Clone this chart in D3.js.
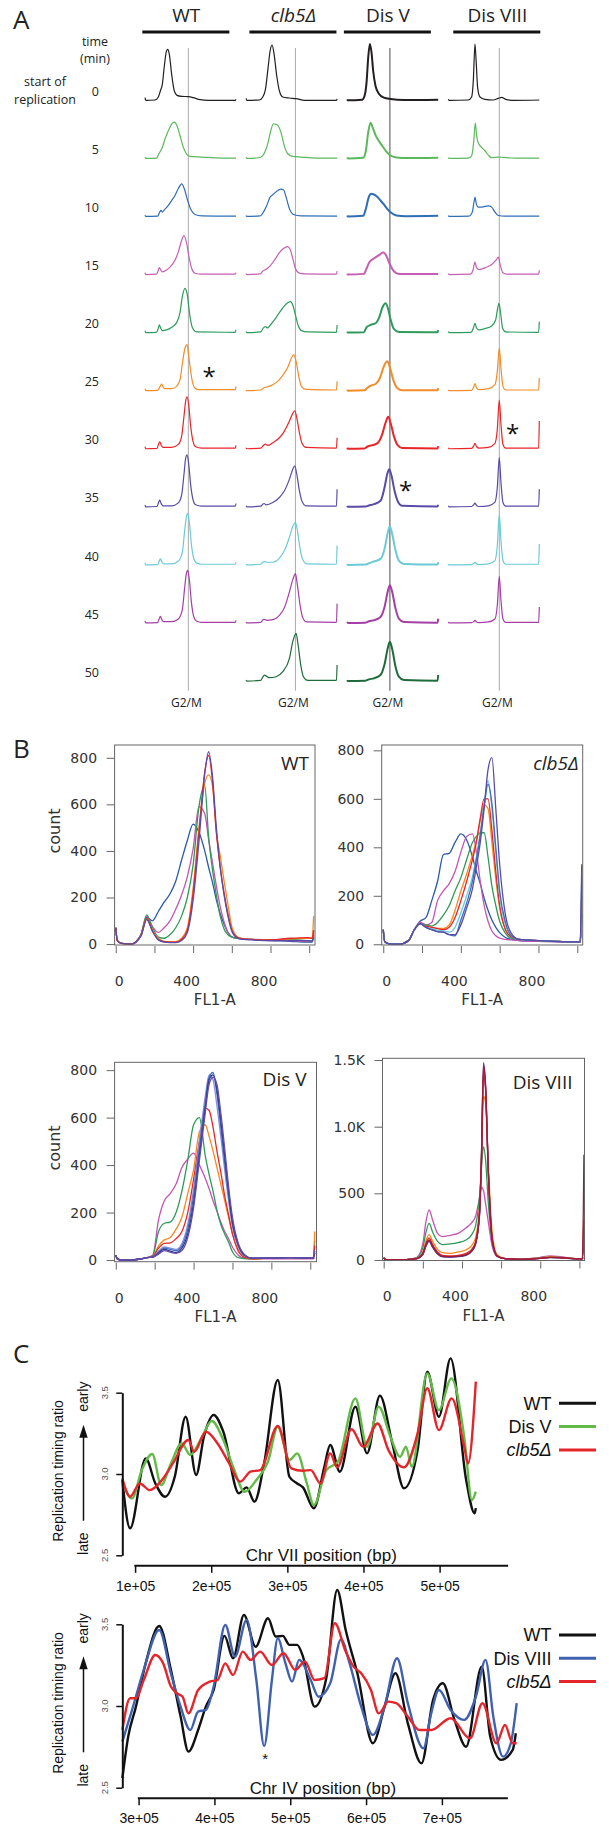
<!DOCTYPE html>
<html>
<head>
<meta charset="utf-8">
<script src="https://cdn.jsdelivr.net/npm/d3@7"></script>
<style>
  body { margin: 0; background: #fff; }
  svg { display: block; }
</style>
</head>
<body>
<svg id="fig" width="609" height="1830"></svg>
<script>
// ---------- panel A : FACS profiles, one trace per strain and time point ----------
var strainsA = ["WT", "clb5Δ", "Dis V", "Dis VIII"];
var timesA = [0, 5, 10, 15, 20, 25, 30, 35, 40, 45, 50];
var timeColors = ["#231f20", "#5cb85c", "#2f6db5", "#c55fb3", "#2e9a5c", "#f28c28",
                  "#e8262a", "#5b4aa6", "#6ccad6", "#a43fa6", "#1f6b3b"];
var g2Channel = [130, 148, 128, 153];   // G2/M position per strain (trace units)

// [channel, count] pairs, one trace per time point
var tracesWT = [
  [[0,10],[2,2],[30,3],[40,12],[46,30],[52,50],[58,105],[64,148],[68,155],[73,140],[80,80],[88,30],[96,17],[110,14],[130,13],[145,10],[165,4],[190,2],[271,2],[273,5]],
  [[0,6],[2,2],[35,3],[40,12],[45,22],[52,35],[60,60],[70,85],[80,105],[88,111],[96,100],[105,70],[115,35],[125,15],[135,8],[170,6],[230,3],[273,3]],
  [[0,6],[2,2],[38,3],[44,15],[48,20],[52,15],[58,22],[70,35],[80,50],[90,65],[100,86],[110,100],[118,85],[128,50],[138,22],[150,8],[170,4],[273,3]],
  [[0,8],[2,2],[34,3],[39,12],[43,23],[47,16],[52,10],[62,14],[75,24],[90,45],[100,70],[110,105],[117,119],[124,100],[132,55],[140,20],[150,6],[170,3],[271,3],[273,8]],
  [[0,8],[2,2],[34,3],[39,12],[43,25],[47,15],[52,8],[65,10],[80,18],[95,32],[105,62],[112,110],[120,135],[127,115],[135,50],[143,15],[155,4],[271,3],[273,10]],
  [[0,8],[2,2],[38,3],[44,12],[50,22],[55,12],[60,8],[80,8],[95,15],[105,35],[113,90],[120,130],[126,140],[132,100],[140,40],[148,12],[160,5],[271,5],[273,15]],
  [[0,8],[2,2],[36,3],[40,14],[44,23],[49,12],[54,6],[80,6],[100,15],[110,40],[117,100],[122,145],[126,158],[131,135],[137,70],[144,25],[152,8],[170,4],[271,4],[273,12]],
  [[0,8],[2,2],[36,3],[40,13],[44,22],[49,11],[54,5],[80,5],[100,14],[110,38],[117,100],[122,148],[126,158],[131,132],[137,68],[144,24],[152,8],[170,4],[271,4],[273,12]],
  [[0,8],[2,2],[38,3],[42,12],[46,20],[51,10],[56,5],[80,5],[100,13],[112,40],[119,105],[124,145],[128,157],[133,130],[139,65],[146,22],[154,8],[170,4],[271,4],[273,10]],
  [[0,8],[2,2],[38,3],[42,13],[46,22],[51,11],[56,6],[80,6],[100,14],[112,42],[119,108],[124,150],[128,160],[133,132],[139,66],[146,22],[154,8],[170,4],[271,4],[273,10]]
];
var tracesClb5 = [
  [[0,8],[2,2],[40,3],[50,12],[58,35],[66,100],[72,150],[78,168],[84,140],[92,75],[100,30],[110,12],[130,9],[150,7],[175,2],[271,2],[273,6]],
  [[0,6],[2,2],[40,4],[50,10],[58,25],[66,50],[74,85],[82,106],[90,104],[98,97],[106,75],[115,38],[125,16],[140,8],[165,6],[210,3],[273,3]],
  [[0,5],[2,2],[42,4],[52,15],[62,35],[72,60],[80,67],[92,78],[104,84],[112,82],[120,60],[130,25],[142,8],[165,4],[273,3]],
  [[0,5],[2,2],[42,4],[50,12],[60,18],[72,28],[85,45],[100,68],[112,80],[124,86],[132,78],[140,50],[148,20],[158,7],[175,4],[271,3],[273,12]],
  [[0,5],[2,2],[44,4],[52,16],[58,20],[64,16],[72,24],[85,40],[100,62],[115,82],[126,92],[133,95],[140,85],[148,55],[156,24],[166,8],[185,4],[271,3],[273,25]],
  [[0,5],[2,2],[44,4],[52,10],[58,12],[66,14],[80,20],[95,30],[110,48],[125,72],[136,100],[143,110],[150,90],[158,45],[166,15],[178,6],[271,4],[273,30]],
  [[0,5],[2,2],[44,4],[52,12],[58,16],[65,12],[80,20],[100,35],[115,55],[130,85],[140,108],[146,116],[152,95],[160,50],[168,18],[180,6],[271,4],[273,35]],
  [[0,5],[2,2],[44,4],[50,10],[54,12],[60,8],[80,15],[100,30],[115,50],[130,85],[140,115],[146,125],[152,100],[160,50],[168,18],[180,5],[271,4],[273,55]],
  [[0,5],[2,2],[44,4],[50,10],[55,12],[62,10],[80,10],[100,22],[115,45],[130,85],[141,120],[148,130],[154,105],[162,50],[170,18],[182,5],[271,4],[273,60]],
  [[0,5],[2,2],[44,4],[50,11],[55,13],[62,10],[80,12],[100,25],[115,48],[130,95],[141,135],[148,150],[154,115],[162,55],[170,18],[182,5],[271,4],[273,60]],
  [[0,5],[2,2],[44,4],[50,14],[55,20],[62,16],[70,12],[90,15],[110,30],[130,70],[140,120],[150,145],[156,110],[164,50],[172,15],[185,4],[271,4],[273,50]]
];
var tracesDisV = [
  [[0,5],[2,2],[45,4],[52,15],[58,55],[63,130],[68,171],[73,145],[78,90],[85,45],[95,22],[110,10],[130,6],[170,3],[273,4]],
  [[0,5],[2,2],[48,4],[56,25],[63,80],[70,109],[76,96],[85,72],[95,54],[105,40],[118,22],[130,10],[148,5],[180,3],[273,4]],
  [[0,5],[2,2],[48,4],[56,25],[64,58],[72,70],[80,68],[90,61],[100,50],[110,38],[120,25],[132,13],[148,5],[175,3],[273,4]],
  [[0,5],[2,2],[50,4],[58,20],[66,38],[80,50],[95,60],[108,68],[118,57],[128,32],[140,12],[155,4],[273,4]],
  [[0,5],[2,2],[50,3],[58,18],[70,25],[85,30],[96,48],[106,78],[115,90],[122,76],[130,42],[140,13],[155,4],[271,3],[273,10]],
  [[0,5],[2,2],[52,3],[60,10],[70,17],[85,22],[98,40],[110,75],[120,90],[128,72],[138,35],[150,10],[165,3],[271,3],[273,10]],
  [[0,5],[2,2],[52,3],[60,8],[72,12],[90,18],[105,45],[115,80],[123,98],[130,80],[140,40],[152,12],[165,4],[271,3],[273,10]],
  [[0,5],[2,2],[55,3],[65,6],[80,10],[100,20],[112,60],[120,100],[126,115],[133,95],[142,50],[152,18],[165,5],[271,3],[273,8]],
  [[0,5],[2,2],[55,3],[65,7],[80,12],[100,20],[112,50],[122,100],[128,118],[135,95],[145,45],[155,15],[170,5],[271,3],[273,10]],
  [[0,5],[2,2],[55,3],[65,7],[80,10],[100,20],[112,50],[122,98],[128,115],[135,95],[145,45],[155,15],[170,5],[271,3],[273,15]],
  [[0,5],[2,2],[55,3],[65,7],[80,10],[100,20],[112,52],[122,102],[128,120],[135,98],[145,45],[155,15],[170,5],[271,3],[273,20]]
];
var tracesDisVIII = [
  [[0,5],[2,2],[60,3],[70,12],[75,60],[80,171],[84,110],[88,40],[95,12],[110,5],[135,3],[150,8],[160,11],[172,5],[200,2],[273,3]],
  [[0,5],[2,2],[60,3],[70,10],[76,50],[81,108],[85,70],[90,48],[100,35],[110,25],[120,12],[130,4],[150,6],[165,5],[200,3],[273,3]],
  [[0,5],[2,2],[62,3],[72,15],[77,45],[80,60],[84,40],[90,30],[105,31],[120,34],[130,30],[140,15],[150,5],[170,3],[273,3]],
  [[0,5],[2,2],[66,3],[74,15],[80,39],[85,22],[92,17],[110,22],[130,32],[143,45],[150,54],[156,30],[163,8],[175,3],[271,3],[273,15]],
  [[0,5],[2,2],[68,3],[75,15],[80,30],[85,15],[92,10],[110,14],[130,22],[142,40],[148,75],[152,90],[157,60],[163,15],[172,4],[271,3],[273,35]],
  [[0,5],[2,2],[70,3],[76,12],[80,23],[85,10],[92,5],[120,8],[140,20],[147,60],[153,130],[158,70],[164,15],[172,4],[271,4],[273,40]],
  [[0,5],[2,2],[70,3],[76,10],[80,18],[85,8],[92,4],[120,6],[140,18],[147,60],[153,148],[158,75],[164,15],[172,4],[271,4],[273,85]],
  [[0,5],[2,2],[70,3],[76,8],[80,13],[85,6],[92,3],[120,5],[140,16],[147,60],[153,150],[158,75],[164,15],[172,4],[271,4],[273,55]],
  [[0,5],[2,2],[70,3],[76,6],[80,10],[85,5],[92,3],[120,5],[140,15],[147,60],[153,153],[158,75],[164,15],[172,4],[271,4],[273,65]],
  [[0,5],[2,2],[70,3],[76,6],[80,10],[85,5],[92,3],[120,5],[140,14],[147,55],[153,142],[158,70],[164,14],[172,4],[271,4],[273,50]]
];
// asterisks: strain index, time, channel, count
var starsA = [[0, 25, 192, 55], [3, 30, 193, 58], [2, 35, 175, 60]];

// ---------- panel B : overlaid FACS histograms ----------
var bGrid = [0, 8, 30, 80, 130, 160, 190, 220, 250, 280, 310, 340, 370, 400, 430, 460, 480, 500, 520, 540, 560, 580, 600, 630, 660, 700, 800, 900, 990, 1015, 1023];
var dGrid = [0, 8, 30, 80, 130, 170, 200, 215, 232, 250, 275, 300, 340, 380, 420, 450, 470, 490, 500, 510, 520, 535, 555, 580, 620, 700, 800, 850, 900, 990, 1015, 1023];

var bColorsWT = ["#2a5aa8", "#c455b5", "#2e9a5a", "#f28a20", "#e8262a", "#5b4aa8"];
var bWT = [
  [70,15,3,0,40,115,100,140,180,215,270,360,445,515,480,400,330,265,190,130,85,50,31,25,22,20,15,12,8,8,30],
  [70,15,3,0,40,120,75,50,70,100,150,210,290,410,590,560,450,350,250,160,95,50,30,25,22,20,18,15,12,12,40],
  [70,15,3,0,40,125,70,30,25,40,70,120,200,340,590,680,460,320,210,120,65,40,30,25,22,20,18,20,15,15,50],
  [70,15,3,0,35,110,60,25,12,10,10,25,70,240,500,690,727,680,480,380,270,170,75,30,22,20,18,22,25,25,120],
  [70,15,3,0,35,110,55,20,10,8,8,20,60,220,480,740,810,700,480,330,220,130,60,28,22,20,18,25,28,25,60],
  [70,15,3,0,35,105,55,18,8,6,6,15,50,190,440,730,826,720,500,330,210,120,55,25,20,18,15,15,15,12,30]
];
var bColorsClb5 = ["#2a5aa8", "#c455b5", "#2e9a5a", "#f28a20", "#e8262a", "#6ccad6", "#3a6fc0", "#5b4aa8"];
var bClb5 = [
  [60,10,2,0,15,60,95,110,180,260,370,375,420,455,430,360,300,250,190,140,100,70,48,28,20,15,12,10,8,8,100],
  [60,10,2,0,15,60,90,80,90,180,220,250,300,380,445,455,380,260,160,95,55,35,25,20,18,15,12,10,8,8,60],
  [60,10,2,0,15,60,85,80,75,90,120,160,220,275,350,420,445,460,460,360,240,160,95,45,25,20,15,12,10,10,120],
  [60,10,2,0,15,60,85,75,70,65,65,80,140,220,290,370,430,510,575,560,420,270,150,60,30,20,15,12,10,10,150],
  [60,10,2,0,15,60,85,75,70,65,60,70,110,180,260,350,420,520,600,600,470,300,160,60,30,20,15,12,10,10,200],
  [60,10,2,0,15,60,85,70,65,58,55,50,70,130,200,280,360,460,580,675,560,380,200,80,35,20,15,12,10,10,250],
  [60,10,2,0,15,60,85,70,60,52,50,40,35,100,170,260,350,450,570,660,580,400,220,90,35,20,15,12,10,10,280],
  [60,10,2,0,15,60,85,70,60,52,50,40,40,80,150,230,320,420,560,720,770,560,330,120,45,20,15,12,10,10,330]
];
var bColorsDisV = ["#c455b5", "#2e9a5a", "#f28a20", "#e8262a", "#8c8cd8", "#3a6fc0", "#2b3a8f", "#6a4aa8"];
var bDisV = [
  [20,5,0,0,5,10,20,170,250,280,320,390,425,450,400,345,300,250,205,160,120,90,55,20,8,5,5,5,5,5,10],
  [20,5,0,0,5,10,18,120,155,160,200,290,420,570,600,440,360,290,210,150,110,75,35,10,6,5,8,10,8,8,80],
  [20,5,0,0,5,10,15,60,85,95,130,180,280,380,540,570,520,460,390,320,250,180,110,35,12,5,8,10,8,8,120],
  [20,5,0,0,5,10,15,50,70,72,90,120,200,340,500,640,630,560,460,370,270,190,110,40,12,5,8,10,8,8,60],
  [20,5,0,0,5,10,12,38,55,50,45,70,150,300,500,690,780,760,650,520,380,250,140,55,18,8,8,10,8,8,40],
  [20,5,0,0,5,10,12,33,50,45,40,60,130,270,470,660,770,790,700,560,410,270,150,60,20,8,8,10,8,8,30],
  [20,5,0,0,5,10,12,30,45,38,32,50,110,240,440,640,760,780,720,590,440,290,160,65,22,8,8,10,8,8,30],
  [20,5,0,0,5,10,12,25,40,33,28,40,95,220,420,620,740,770,740,620,470,310,180,70,25,8,8,10,8,8,40]
];
var bColorsDisVIII = ["#c455b5", "#2e9a5a", "#f28a20", "#2b3a8f", "#6a3d9a", "#e8262a", "#9b1b3a"];
var bDisVIII = [
  [20,5,0,0,5,20,120,280,375,300,200,175,185,200,240,280,330,470,545,520,430,280,100,25,10,5,20,30,25,10,10,20],
  [15,4,0,0,4,15,90,200,275,210,140,115,120,130,150,190,260,480,700,850,760,420,130,30,10,5,15,25,20,10,10,330],
  [15,4,0,0,4,12,60,140,190,140,80,55,50,60,75,110,170,400,750,1230,1180,700,200,40,12,5,15,25,20,10,10,450],
  [15,4,0,0,4,10,40,100,140,95,45,25,22,25,35,65,120,340,760,1400,1300,650,140,30,10,5,12,18,15,8,8,150],
  [15,4,0,0,4,10,42,105,145,100,48,26,24,27,38,68,125,350,820,1480,1320,640,140,28,10,5,12,20,18,8,8,300],
  [15,4,0,0,4,10,50,120,165,115,60,35,30,35,50,80,140,380,800,1420,1300,650,150,30,10,5,12,20,18,8,8,200],
  [15,4,0,0,4,10,45,110,150,105,50,28,25,28,40,70,130,360,800,1460,1330,660,150,30,10,5,12,20,18,8,8,790]
];

// ---------- panel C : replication timing profiles [position kb, ratio] ----------
var cTopNames = ["WT", "Dis V", "clb5Δ"];
var cTopColors = ["#111111", "#62bb46", "#e4262b"];
var cTopWT = [[83.2,2.963],[93.4,2.666],[113.9,3.096],[126.6,2.942],[139.4,2.860],[152.1,2.983],[166.4,3.352],[180.2,2.994],[190.4,3.229],[203.2,3.363],[215.9,3.260],[236.3,2.881],[246.5,2.918],[256.8,2.830],[269.5,3.065],[287.4,3.578],[302.7,2.983],[312.9,2.942],[320.5,2.918],[334.8,2.789],[348.6,3.045],[356.3,3.178],[369,3.014],[389.4,3.414],[404.7,3.127],[421.6,3.482],[437.9,3.188],[453.2,2.912],[471.1,3.147],[483.8,3.629],[499.1,3.352],[514.4,3.711],[534.9,2.963],[546.1,2.758],[547.6,2.79]];
var cTopDisV = [[83.2,2.953],[96,2.850],[108.8,3.024],[122.5,3.123],[134.3,2.932],[147,3.065],[161.3,3.188],[172.5,3.117],[187.9,3.229],[200.6,3.326],[215.9,3.209],[228.7,3.045],[244,2.891],[259.3,2.963],[274.6,3.076],[287.4,3.291],[302.7,3.086],[312.9,3.127],[325.6,2.942],[334.8,2.809],[351.2,3.024],[366.5,3.076],[389.4,3.465],[404.7,3.168],[420,3.414],[435.4,3.229],[448.1,3.106],[455.8,3.168],[463.4,3.045],[483.8,3.619],[499.1,3.393],[515.5,3.588],[532.3,3.229],[542.5,2.840],[547.6,2.891]];
var cTopClb5 = [[83.2,2.973],[93.4,2.860],[106.2,2.942],[119,2.901],[136.8,2.973],[149.6,3.065],[170,3.209],[177.7,3.137],[193,3.260],[208.3,3.188],[223.6,3.065],[237.9,2.953],[251.6,3.014],[264.4,3.024],[287.4,3.295],[305.2,3.035],[320.5,3.020],[330.7,3.024],[343.5,2.942],[356.3,3.127],[365.4,3.041],[384.3,3.275],[399.6,3.168],[418.5,3.311],[432.8,3.147],[453.2,3.041],[471.1,3.250],[483.8,3.527],[499.1,3.270],[515.9,3.465],[532.3,3.168],[537.4,3.065],[547.6,3.568]];

var cBotNames = ["WT", "Dis VIII", "clb5Δ"];
var cBotColors = ["#111111", "#4060b0", "#e4262b"];
var cBotWT = [[278.6,2.558],[286.3,2.813],[296.5,2.996],[309.3,3.261],[327.2,3.490],[342.6,3.221],[355.4,2.935],[365.7,2.721],[378.5,2.853],[388.7,2.996],[399,3.098],[413.3,3.429],[424.6,3.292],[438.9,3.557],[454.3,3.363],[470.7,3.537],[480.9,3.425],[490.2,3.429],[498.9,3.374],[509.1,3.374],[516.8,3.302],[532.2,2.996],[547.5,3.170],[561.9,3.710],[573.1,3.465],[588.5,3.200],[609,2.772],[624.4,2.996],[638.7,3.200],[655.1,2.894],[673,2.649],[688.4,3.037],[701.2,3.139],[716.6,2.915],[731.9,2.751],[752.5,3.241],[763.7,2.813],[778.1,2.670],[793.4,2.731],[797.5,2.833]];
var cBotDisVIII = [[278.6,2.782],[291.4,2.976],[306.8,3.221],[327.2,3.465],[342.6,3.200],[355.4,2.996],[368.2,2.853],[378.5,2.966],[388.7,2.976],[399,3.119],[414.3,3.496],[427.1,3.302],[442.5,3.527],[455.3,3.159],[465.6,2.755],[475.8,3.159],[483.5,3.414],[493.7,3.261],[502.4,3.149],[511.7,3.282],[527,3.159],[537.3,3.057],[552.7,3.139],[567,3.408],[578.3,3.261],[593.6,2.996],[609,2.823],[624.4,2.996],[640.8,3.292],[655.1,3.017],[675.6,2.741],[685.9,2.955],[696.1,3.098],[711.5,2.976],[729.4,2.915],[744.8,3.057],[757.6,3.282],[767.8,2.935],[780.6,2.690],[790.9,2.772],[798.6,3.017]];
var cBotClb5 = [[278.6,2.853],[288.8,3.047],[296.5,3.047],[306.8,3.159],[322.1,3.312],[332.4,3.261],[342.6,3.119],[350.3,3.078],[358,3.057],[365.7,2.955],[378.5,3.098],[393.8,3.149],[404.1,3.159],[414.3,3.261],[424.6,3.190],[437.4,3.333],[447.6,3.282],[460.4,3.333],[475.8,3.251],[491.2,3.323],[506.5,3.221],[519.4,3.272],[532.2,3.159],[545,3.170],[558.8,3.506],[573.1,3.333],[583.4,3.241],[593.6,3.200],[606.4,3.098],[616.7,2.955],[629.5,3.027],[639.7,3.017],[655.1,2.935],[670.5,2.853],[685.9,2.853],[711.5,2.925],[737.1,2.802],[753.5,3.017],[771.9,2.772],[783.2,2.884],[793.4,2.772],[798.6,2.772]];
var cBotStar = [467, 2.70];

// =====================================================================
var svg = d3.select("#fig");
var sansA = "'Open Sans', sans-serif";
var sansC = "'Liberation Sans', Arial, sans-serif";

// ---------------- panel A ----------------
var colA = d3.scalePoint().domain(strainsA).range([145, 448.3]);
var rowA = d3.scaleLinear().domain([0, 50]).range([101, 681.7]);
var xA = d3.scaleLinear().domain([0, 273]).range([0, 91]);
var yA = d3.scaleLinear().domain([0, 171]).range([0, -57]);
var lineA = d3.line().x(d => xA(d[0])).y(d => yA(d[1])).curve(d3.curveMonotoneX);
var tracesA = [tracesWT, tracesClb5, tracesDisV, tracesDisVIII];

var gA = svg.append("g").attr("font-family", sansA).attr("fill", "#222");
gA.append("text").attr("x", 13).attr("y", 29).attr("font-size", 26).text("A");

gA.append("text").attr("x", 95).attr("y", 46).attr("text-anchor", "middle").attr("font-size", 12.5).text("time");
gA.append("text").attr("x", 95).attr("y", 63).attr("text-anchor", "middle").attr("font-size", 12.5).text("(min)");
gA.append("text").attr("x", 45).attr("y", 86).attr("text-anchor", "middle").attr("font-size", 12.5).text("start of");
gA.append("text").attr("x", 45).attr("y", 104).attr("text-anchor", "middle").attr("font-size", 12.5).text("replication");

gA.selectAll("text.time").data(timesA).join("text").attr("class", "time")
  .attr("x", 99).attr("y", d => rowA(d) - 5)
  .attr("text-anchor", "end").attr("font-size", 12.5).text(d => d);

strainsA.forEach(function (s, si) {
  var x0 = colA(s);
  var gx = x0 + xA(g2Channel[si]);
  gA.append("text").attr("x", gx - 2).attr("y", 22).attr("text-anchor", "middle")
    .attr("font-size", 19).attr("font-style", si === 1 ? "italic" : null).text(s);
  gA.append("line").attr("x1", gx - 46).attr("x2", gx + 41).attr("y1", 32).attr("y2", 32)
    .attr("stroke", "#111").attr("stroke-width", 3);
  gA.append("line").attr("x1", gx).attr("x2", gx)
    .attr("y1", rowA(0) - 53).attr("y2", rowA(50) + 9)
    .attr("stroke", si === 2 ? "#888" : "#aaa").attr("stroke-width", si === 2 ? 1.5 : 1);
  gA.append("text").attr("x", gx - 2).attr("y", 707).attr("text-anchor", "middle")
    .attr("font-size", 12).text("G2/M");

  gA.append("g").attr("transform", "translate(" + x0 + ",0)")
    .selectAll("path").data(tracesA[si]).join("path")
    .attr("transform", (d, i) => "translate(0," + rowA(timesA[i]) + ")")
    .attr("d", lineA).attr("fill", "none")
    .attr("stroke", (d, i) => timeColors[i])
    .attr("stroke-width", si === 2 ? 2 : 1.2);
});

gA.selectAll("text.star").data(starsA).join("text").attr("class", "star")
  .attr("x", d => colA(strainsA[d[0]]) + xA(d[2]))
  .attr("y", d => rowA(d[1]) + yA(d[3]) + 12)
  .attr("text-anchor", "middle").attr("font-size", 24).attr("fill", "#111").text("*");

// ---------------- panel B ----------------
svg.append("text").attr("x", 13).attr("y", 758).attr("font-family", sansA)
  .attr("font-size", 26).attr("fill", "#222").text("B");

var bPlots = [
  { label: "WT", italic: false, lines: bWT, colors: bColorsWT, grid: bGrid, x0: 114.6, x1: 315, y0: 745, y1: 945,
    xDom: [-6, 1030], yDom: [-4, 855], yTicks: [0, 200, 400, 600, 800], fmt: d => d, count: true, lx: 6, ly: 25 },
  { label: "clb5Δ", italic: true, lines: bClb5, colors: bColorsClb5, grid: bGrid, x0: 381.7, x1: 582.7, y0: 745, y1: 945,
    xDom: [-8, 1028], yDom: [-3, 822], yTicks: [0, 200, 400, 600, 800], fmt: d => d, count: false, lx: 4, ly: 25 },
  { label: "Dis V", italic: false, lines: bDisV, colors: bColorsDisV, grid: bGrid, x0: 114.6, x1: 316.5, y0: 1062.3, y1: 1261.7,
    xDom: [-6, 1032], yDom: [-7, 833], yTicks: [0, 200, 400, 600, 800], fmt: d => d, count: true, lx: 10, ly: 24 },
  { label: "Dis VIII", italic: false, lines: bDisVIII, colors: bColorsDisVIII, grid: dGrid, x0: 382.5, x1: 584.5, y0: 1058.3, y1: 1260.5,
    xDom: [-6, 1026], yDom: [-4, 1513], yTicks: [0, 500, 1000, 1500],
    fmt: d => d >= 1000 ? (d / 1000).toFixed(1) + "K" : d, count: false, lx: 12, ly: 31 }
];

bPlots.forEach(function (p) {
  var x = d3.scaleLinear().domain(p.xDom).range([p.x0, p.x1]);
  var y = d3.scaleLinear().domain(p.yDom).range([p.y1, p.y0]);
  var g = svg.append("g").attr("font-family", "'DejaVu Sans', sans-serif");
  var line = d3.line().x((d, i) => x(p.grid[i])).y(d => y(d)).curve(d3.curveMonotoneX);

  g.selectAll("path.h").data(p.lines).join("path").attr("class", "h")
    .attr("d", line).attr("fill", "none")
    .attr("stroke", (d, i) => p.colors[i]).attr("stroke-width", 1.3);

  g.append("rect").attr("x", p.x0).attr("y", p.y0)
    .attr("width", p.x1 - p.x0).attr("height", p.y1 - p.y0)
    .attr("fill", "none").attr("stroke", "#666").attr("stroke-width", 1);

  var ya = g.append("g").attr("transform", "translate(" + p.x0 + ",0)")
    .call(d3.axisLeft(y).tickValues(p.yTicks).tickSize(8).tickPadding(9.5).tickFormat(p.fmt));
  ya.select(".domain").remove();
  ya.selectAll(".tick line").attr("stroke", "#666");
  ya.selectAll(".tick text").attr("font-size", 14).attr("fill", "#333")
    .attr("font-family", "'DejaVu Sans', sans-serif");

  var xa = g.append("g").attr("transform", "translate(0," + (p.y1 + 1) + ")")
    .call(d3.axisBottom(x).tickValues([0, 200, 400, 600, 800, 1000]).tickSize(7).tickPadding(23)
      .tickFormat(d => (d % 400 === 0 && d < 1000) ? d : ""));
  xa.select(".domain").remove();
  xa.selectAll(".tick line").attr("stroke", "#666");
  xa.selectAll(".tick text").attr("font-size", 14).attr("fill", "#333")
    .attr("font-family", "'DejaVu Sans', sans-serif")
    .attr("dx", d => d === 0 ? 3 : -7);

  g.append("text").attr("x", (p.x0 + p.x1) / 2).attr("y", p.y1 + 60)
    .attr("text-anchor", "middle").attr("font-size", 15).attr("fill", "#333").text("FL1-A");

  if (p.count) {
    g.append("text").attr("transform", "translate(54," + ((p.y0 + p.y1) / 2 - 14) + ") rotate(-90)")
      .attr("dy", "0.35em").attr("text-anchor", "middle").attr("font-size", 16).attr("fill", "#333").text("count");
  }

  g.append("text").attr("x", p.x1 - p.lx).attr("y", p.y0 + p.ly)
    .attr("text-anchor", "end").attr("font-family", sansA).attr("font-size", 19).attr("fill", "#222")
    .attr("font-style", p.italic ? "italic" : null).text(p.label);
});

// ---------------- panel C ----------------
svg.append("text").attr("x", 13).attr("y", 1363).attr("font-family", sansA)
  .attr("font-size", 26).attr("fill", "#222").text("C");

var cPlots = [
  { series: [cTopWT, cTopDisV, cTopClb5], names: cTopNames, colors: cTopColors,
    xDom: [100, 500], xRange: [135.1, 439.6], axisKb: [99, 590], ticks: [100, 200, 300, 400, 500],
    yTop: 1392.7, yBottom: 1555.3, title: "Chr VII position (bp)", star: null },
  { series: [cBotWT, cBotDisVIII, cBotClb5], names: cBotNames, colors: cBotColors,
    xDom: [300, 700], xRange: [138.6, 441.9], axisKb: [299, 787], ticks: [300, 400, 500, 600, 700],
    yTop: 1624.3, yBottom: 1787.7, title: "Chr IV position (bp)", star: cBotStar }
];

cPlots.forEach(function (p) {
  var x = d3.scaleLinear().domain(p.xDom).range(p.xRange);
  var y = d3.scaleLinear().domain([2.5, 3.5]).range([p.yBottom, p.yTop]);
  var g = svg.append("g").attr("font-family", sansC).attr("fill", "#111");
  var line = d3.line().x(d => x(d[0])).y(d => y(d[1])).curve(d3.curveMonotoneX);

  g.selectAll("path.s").data(p.series).join("path").attr("class", "s")
    .attr("d", line).attr("fill", "none")
    .attr("stroke", (d, i) => p.colors[i]).attr("stroke-width", 2.4);

  // y axis
  var yAxisX = 122.3;
  var ya = g.append("g").attr("transform", "translate(" + yAxisX + ",0)")
    .call(d3.axisLeft(y).tickValues([2.5, 3, 3.5]).tickSize(6).tickSizeOuter(0).tickFormat(""));
  ya.select(".domain").attr("stroke", "#111").attr("stroke-width", 2);
  ya.selectAll(".tick line").attr("stroke", "#111").attr("stroke-width", 1.5);
  g.selectAll("text.yt").data([2.5, 3, 3.5]).join("text").attr("class", "yt")
    .attr("transform", d => "translate(105," + y(d) + ") rotate(-90)")
    .attr("dy", "0.35em").attr("text-anchor", "middle").attr("font-size", 9.5).attr("fill", "#555")
    .text(d3.format(".1f"));

  // x axis
  var axisY = p.yBottom + 10.5;
  var xa = g.append("g").attr("transform", "translate(0," + axisY + ")")
    .call(d3.axisBottom(x).tickValues(p.ticks).tickSize(7).tickPadding(8)
      .tickFormat(d => (d / 100) + "e+05"));
  xa.select(".domain").remove();
  xa.selectAll(".tick line").attr("stroke", "#111").attr("stroke-width", 1.5);
  xa.selectAll(".tick text").attr("font-size", 14).attr("fill", "#111").attr("font-family", sansC);
  g.append("line").attr("x1", x(p.axisKb[0])).attr("x2", x(p.axisKb[1]))
    .attr("y1", axisY).attr("y2", axisY).attr("stroke", "#111").attr("stroke-width", 2);
  g.append("text").attr("x", (x(p.axisKb[0]) + x(p.axisKb[1])) / 2).attr("y", p.yBottom + 6)
    .attr("text-anchor", "middle").attr("font-size", 17).text(p.title);

  // y label and early/late arrow
  g.append("text").attr("transform", "translate(58.3," + ((p.yTop + p.yBottom) / 2 - 3) + ") rotate(-90)")
    .attr("dy", "0.35em").attr("text-anchor", "middle").attr("font-size", 14).text("Replication timing ratio");
  g.append("text").attr("transform", "translate(83.5," + (p.yTop + 4) + ") rotate(-90)")
    .attr("dy", "0.35em").attr("text-anchor", "middle").attr("font-size", 14).text("early");
  g.append("text").attr("transform", "translate(83," + (p.yTop + 151) + ") rotate(-90)")
    .attr("dy", "0.35em").attr("text-anchor", "middle").attr("font-size", 14).text("late");
  g.append("line").attr("x1", 83.5).attr("x2", 83.5).attr("y1", p.yTop + 128).attr("y2", p.yTop + 42)
    .attr("stroke", "#111").attr("stroke-width", 1.5);
  g.append("path").attr("d", d3.line()([[83.5, p.yTop + 32], [79.3, p.yTop + 45], [87.7, p.yTop + 45]]) + "Z")
    .attr("fill", "#111");

  // legend
  var lg = g.append("g");
  p.names.forEach(function (n, i) {
    var ly = p.yTop + 10.6 + i * 23.3;
    lg.append("text").attr("x", 551.5).attr("y", ly).attr("dy", "0.35em").attr("text-anchor", "end")
      .attr("font-size", 18).attr("font-style", n.indexOf("clb5") === 0 ? "italic" : null).text(n);
    lg.append("line").attr("x1", 559).attr("x2", 596).attr("y1", ly).attr("y2", ly)
      .attr("stroke", p.colors[i]).attr("stroke-width", 3);
  });

  if (p.star) {
    g.append("text").attr("x", x(p.star[0])).attr("y", y(p.star[1]) + 9)
      .attr("text-anchor", "middle").attr("font-size", 15).text("*");
  }
});
</script>
</body>
</html>
